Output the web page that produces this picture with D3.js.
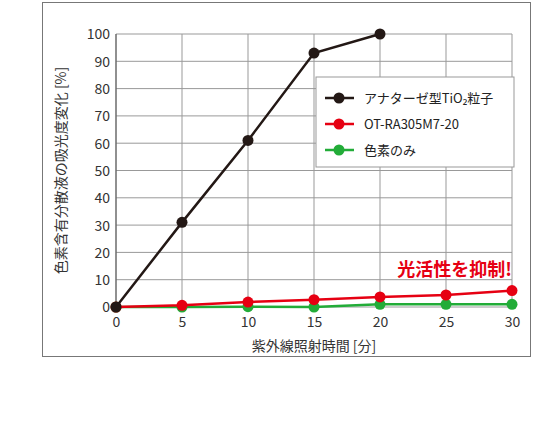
<!DOCTYPE html><html><head><meta charset="utf-8"><script src="https://cdn.jsdelivr.net/npm/d3@7"></script>
<style>body{margin:0;background:#fff}text{font-family:"Noto Sans CJK JP","Noto Sans",sans-serif}</style></head><body><svg width="560" height="439"></svg><script>
const xs=[0,5,10,15,20,25,30];
const xTicks=[0,5,10,15,20,25,30];
const yTicks=[0,10,20,30,40,50,60,70,80,90,100];
const anatase=[0,31,61,93,100];
const otra=[0,0.6,1.8,2.7,3.7,4.4,6];
const dyeOnly=[0,0,0.1,0,1,1,1];
const series=[{name:"アナターゼ型TiO₂粒子",v:anatase,c:"#231815"},{name:"OT-RA305M7-20",v:otra,c:"#e60012"},{name:"色素のみ",v:dyeOnly,c:"#22ac38"}];
const svg=d3.select("svg");
svg.append("rect").attr("x",42.5).attr("y",2.5).attr("width",488).attr("height",354).attr("fill","none").attr("stroke","#777");
const x=d3.scaleLinear().domain([0,30]).range([116,512]);
const y=d3.scaleLinear().domain([0,100]).range([307,34]);
const g=svg.append("g");
xTicks.forEach(t=>g.append("line").attr("x1",x(t)).attr("x2",x(t)).attr("y1",y(0)).attr("y2",y(100)).attr("stroke","#999"));
yTicks.forEach(t=>g.append("line").attr("x1",x(0)).attr("x2",x(30)).attr("y1",y(t)).attr("y2",y(t)).attr("stroke","#999"));
g.append("line").attr("x1",x(0)).attr("x2",x(0)).attr("y1",y(0)).attr("y2",y(100)).attr("stroke","#555");
const ax=svg.append("g").attr("transform","translate(0,"+y(0)+")").call(d3.axisBottom(x).tickValues(xTicks).tickSize(0).tickPadding(10));
const ay=svg.append("g").attr("transform","translate("+x(0)+",0)").call(d3.axisLeft(y).tickValues(yTicks).tickSize(0).tickPadding(6));
[ax,ay].forEach(a=>{a.select(".domain").remove();a.selectAll("text").attr("font-size",14).attr("fill","#333")});
ay.selectAll("text").attr("dy","0.35em");
const line=d3.line().x((d,i)=>x(xs[i])).y(d=>y(d));
series.slice().reverse().forEach(s=>{
 svg.append("path").attr("d",line(s.v)).attr("fill","none").attr("stroke",s.c).attr("stroke-width",2.5);
 svg.selectAll(null).data(s.v).enter().append("circle").attr("cx",(d,i)=>x(xs[i])).attr("cy",d=>y(d)).attr("r",5.5).attr("fill",s.c);
});
svg.append("rect").attr("x",316).attr("y",77).attr("width",198).attr("height",90).attr("fill","#fff").attr("stroke","#999");
series.forEach((s,i)=>{const yy=98+i*26;
 svg.append("line").attr("x1",325).attr("x2",354).attr("y1",yy).attr("y2",yy).attr("stroke",s.c).attr("stroke-width",2.5);
 svg.append("circle").attr("cx",339).attr("cy",yy).attr("r",5.5).attr("fill",s.c);
 svg.append("text").attr("x",364).attr("y",yy+5).attr("font-size",13).attr("fill","#222").text(s.name);});
svg.append("text").attr("x",512).attr("y",276).attr("text-anchor","end").attr("font-size",18).attr("font-weight","bold").attr("fill","#e60012").text("光活性を抑制!");
svg.append("text").attr("x",x(15)).attr("y",351).attr("text-anchor","middle").attr("font-size",14).attr("fill","#333").text("紫外線照射時間 [分]");
svg.append("text").attr("transform","translate(66,"+y(50)+") rotate(-90)").attr("text-anchor","middle").attr("font-size",14).attr("fill","#333").text("色素含有分散液の吸光度変化 [%]");
</script></body></html>
